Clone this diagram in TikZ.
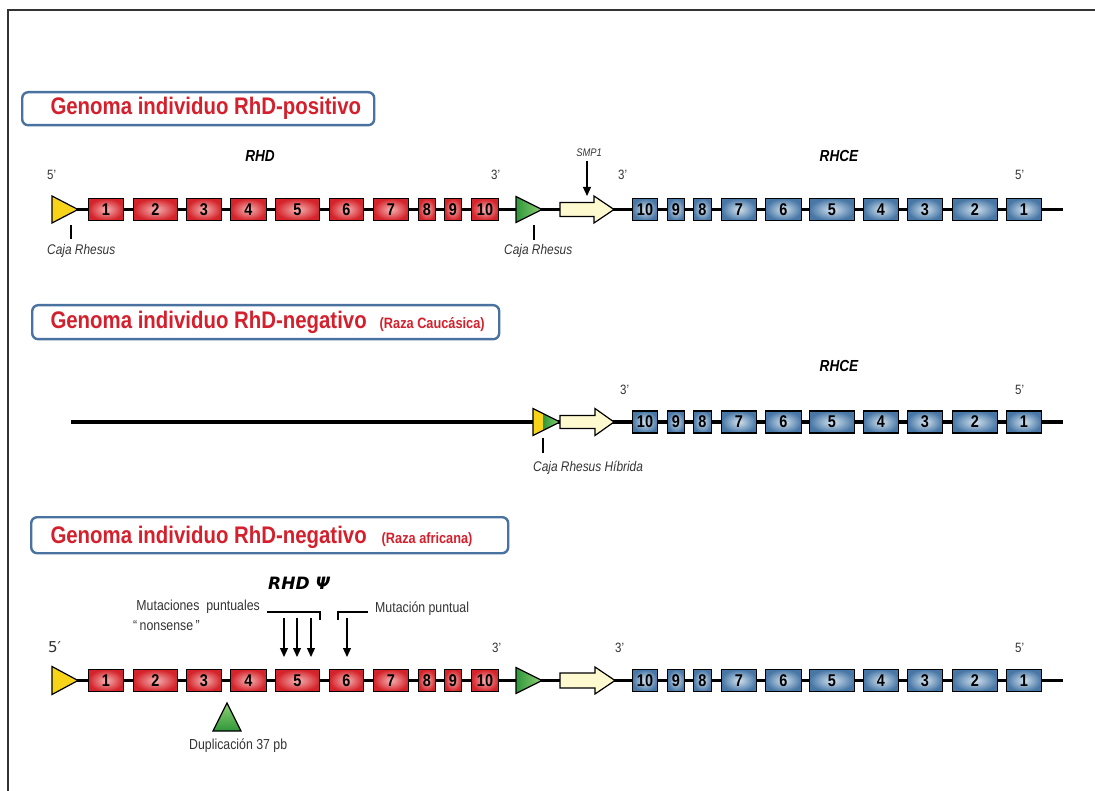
\documentclass[tikz,border=0pt]{standalone}
\usepackage{fontspec}
\setmainfont[FakeStretch=0.85]{Liberation Sans}
\newfontfamily\psifont{DejaVu Sans}
\newcommand{\subtitlefont}{\fontsize{15}{15}\selectfont}
\usetikzlibrary{arrows.meta}
\definecolor{exonred}{HTML}{D4232A}
\definecolor{exonredlight}{HTML}{F6B2B2}
\definecolor{exonblue}{HTML}{4877A6}
\definecolor{exonbluelight}{HTML}{D2E2EE}
\definecolor{boxblue}{HTML}{4A72A0}
\definecolor{titlered}{HTML}{D3202C}
\definecolor{rhyellow}{HTML}{F7D417}
\definecolor{rhgreen}{HTML}{2E973A}
\definecolor{rhgreenlight}{HTML}{8FD173}
\definecolor{smpfill}{HTML}{FEF9CF}
\definecolor{labelgray}{HTML}{333333}
\tikzset{
  exon/.style = {draw=black, line width=1.4pt, minimum height=22pt, text=black,
    inner sep=0pt, font=\fontsize{17}{17}\selectfont\bfseries},
  red_exon/.style = {exon, inner color=exonredlight, outer color=exonred},% exones RHD
  blue_exon/.style = {exon, inner color=exonbluelight, outer color=exonblue},% exones RHCE
  backbone/.style = {line width=3.2pt, black},
  tri_border/.style = {draw=black, line width=1.2pt, line join=miter},
  smp_arrow/.style = {tri_border, fill=smpfill},
  title_box/.style = {draw=boxblue, line width=2.4pt, rounded corners=6pt,
    anchor=north west, inner sep=0pt},
  title_text/.style = {anchor=base west, text=titlered,
    font=\fontsize{24}{24}\selectfont\bfseries},
  end_label/.style = {anchor=base west, text=labelgray, inner sep=0pt,
    font=\fontsize{13.5}{13.5}\selectfont},
  gene_label/.style = {anchor=base, inner sep=0pt,
    font=\fontsize{16}{16}\selectfont\bfseries\itshape},
  box_label/.style = {anchor=base west, text=labelgray, inner sep=0pt,
    font=\fontsize{14}{14}\selectfont\itshape},
  note/.style = {text=labelgray, inner sep=0pt, font=\fontsize{14.5}{14.5}\selectfont},
  tick/.style = {line width=1.1pt, black},
  mut_arrow/.style = {line width=1.2pt, -{Triangle[length=9pt,width=8pt]}}
}
\begin{document}
\begin{tikzpicture}[x=1pt, y=-1pt]
  \useasboundingbox (0,0) rectangle (1095,791);
  \draw[line width=1.2pt, labelgray] (8,791) -- (8,10) -- (1095,10);

  % ---- Genoma RhD-positivo
  \node[title_box, minimum width=352pt, minimum height=33pt] (boxA) at (21,91) {};
  \node[title_text] (titleA) at (47,115) {Genoma individuo RhD-positivo};

  \coordinate (lineA0) at (60,209.5);
  \coordinate (lineA1) at (1063,209.5);
  \draw[backbone] (lineA0) -- (lineA1);
  \draw[tri_border, fill=rhyellow] (52,209.5) ++(0,-13.5) -- ++(26,13.5) -- ++(-26,13.5) -- cycle;
  \draw[tri_border, left color=rhgreen, right color=rhgreenlight] (516,209.5) ++(0,-13) -- ++(26,13) -- ++(-26,13) -- cycle;
  \draw[smp_arrow] (560,209.5) ++(0,-7) -- ++(34,0) -- ++(0,-6.5) -- ++(20,13.5) -- ++(-20,13.5) -- ++(0,-6.5) -- ++(-34,0) -- cycle;
  \foreach \n/\c/\w in {1/106/36, 2/155.5/45, 3/204/36, 4/248.5/37, 5/297.5/45,
      6/346.5/35, 7/391/36, 8/427/18, 9/453/18, 10/485/28}
    \node[red_exon, minimum width={(\w-1)*1pt}] (dA\n) at (\c,209.5) {\n};
  \foreach \n/\c/\w in {10/645/26, 9/676/18, 8/702.5/19, 7/739/36, 6/783.5/37,
      5/832/46, 4/881/36, 3/925/36, 2/975/46, 1/1024/36}
    \node[blue_exon, minimum width={(\w-1)*1pt}] (ceA\n) at (\c,209.5) {\n};

  \node[gene_label] (rhdA) at (260,162) {RHD};
  \node[gene_label] (rhceA) at (839,162) {RHCE};
  \node[end_label] (fiveA) at (47,180) {5'};
  \node[end_label] (threeA) at (491,180) {3'};
  \node[end_label] (threeAb) at (618,180) {3'};
  \node[end_label] (fiveAb) at (1015,180) {5'};
  \node[anchor=base, inner sep=0pt, text=labelgray,
    font=\fontsize{11}{11}\selectfont\itshape] (smp) at (589,157) {SMP1};
  \coordinate (smpTip) at (587,196);
  \draw[mut_arrow] (smp.south -| smpTip) ++(0,4) -- (smpTip);
  \node[box_label] (cajaA) at (47,255) {Caja Rhesus};
  \node[box_label] (cajaAb) at (504,255) {Caja Rhesus};
  \coordinate (tickA) at (71,225);
  \coordinate (tickAb) at (534,225);
  \draw[tick] (tickA) -- ++(0,14);
  \draw[tick] (tickAb) -- ++(0,15);

  % ---- Genoma RhD-negativo (caucasica)
  \node[title_box, minimum width=467pt, minimum height=34pt] (boxB) at (31,304) {};
  \node[title_text] (titleB) at (47,329) {Genoma individuo RhD-negativo\hspace{13pt}{\subtitlefont(Raza Caucásica)}};

  \coordinate (lineB0) at (71,422);
  \coordinate (lineB1) at (1063,422);
  \draw[backbone] (lineB0) -- (lineB1);
  \fill[rhyellow] (533,408.5) -- (543,413.5) -- (543,430.5) -- (533,435.5) -- cycle;
  \shade[left color=rhgreen, right color=rhgreenlight] (543,413.5) -- (560,422) -- (543,430.5) -- cycle;
  \draw[tri_border] (533,408.5) -- (560,422) -- (533,435.5) -- cycle;
  \draw[smp_arrow] (560,422) ++(0,-6.5) -- ++(35,0) -- ++(0,-7) -- ++(19,13.5) -- ++(-19,13.5) -- ++(0,-7) -- ++(-35,0) -- cycle;
  \foreach \n/\c/\w in {10/645/26, 9/676/18, 8/702.5/19, 7/739/36, 6/783.5/37,
      5/832/46, 4/881/36, 3/925/36, 2/975/46, 1/1024/36}
    \node[blue_exon, minimum width={(\w-1)*1pt}] (ceB\n) at (\c,422) {\n};

  \node[gene_label] (rhceB) at (839,372) {RHCE};
  \node[end_label] (threeB) at (620,395) {3'};
  \node[end_label] (fiveB) at (1015,395) {5'};
  \node[box_label] (cajaB) at (533,471) {Caja Rhesus Híbrida};
  \coordinate (tickB) at (543,438);
  \draw[tick] (tickB) -- ++(0,15);

  % ---- Genoma RhD-negativo (africana)
  \node[title_box, minimum width=477pt, minimum height=36pt] (boxC) at (30,516) {};
  \node[title_text] (titleC) at (47,543) {Genoma individuo RhD-negativo\hspace{15pt}{\subtitlefont(Raza africana)}};

  \coordinate (lineC0) at (60,680.5);
  \coordinate (lineC1) at (1063,680.5);
  \draw[backbone] (lineC0) -- (lineC1);
  \draw[tri_border, fill=rhyellow] (52,680.5) ++(0,-14) -- ++(26,14) -- ++(-26,14) -- cycle;
  \draw[tri_border, left color=rhgreen, right color=rhgreenlight] (516,680.5) ++(0,-13) -- ++(26,13) -- ++(-26,13) -- cycle;
  \draw[smp_arrow] (560,680.5) ++(0,-7.5) -- ++(35,0) -- ++(0,-6) -- ++(20,13.5) -- ++(-20,13.5) -- ++(0,-6) -- ++(-35,0) -- cycle;
  \foreach \n/\c/\w in {1/106/36, 2/155.5/45, 3/204/36, 4/248.5/37, 5/297.5/45,
      6/346.5/35, 7/391/36, 8/427/18, 9/453/18, 10/485/28}
    \node[red_exon, minimum width={(\w-1)*1pt}] (psiC\n) at (\c,680.5) {\n};
  \foreach \n/\c/\w in {10/645/26, 9/676/18, 8/702.5/19, 7/739/36, 6/783.5/37,
      5/832/46, 4/881/36, 3/925/36, 2/975/46, 1/1024/36}
    \node[blue_exon, minimum width={(\w-1)*1pt}] (ceC\n) at (\c,680.5) {\n};

  \node[anchor=base west, inner sep=0pt, text=labelgray,
    font=\psifont\fontsize{15}{15}\selectfont] (fiveC) at (48,652) {5′};
  \node[end_label] (threeC) at (492,652) {3'};
  \node[end_label] (threeCb) at (615,652) {3'};
  \node[end_label] (fiveCb) at (1015,652) {5'};

  \node[anchor=base west, inner sep=0pt,
    font=\psifont\fontsize{17}{17}\selectfont\bfseries\itshape] (psiName) at (268,589) {RHD Ψ};
  \node[note, anchor=base east] (mutN) at (260,610) {Mutaciones\ \ puntuales};
  \node[note, anchor=base west] (nonsense) at (133,630) {“\,nonsense\,”};
  \node[note, anchor=base west] (mutP) at (375,612) {Mutación puntual};
  \draw[line width=1.1pt] (267,612) -- (320,612) -- (320,620);
  \draw[line width=1.1pt] (338,620) -- (338,612) -- (368,612);
  \foreach \x in {284,297,311}
    \draw[mut_arrow] (\x,618) -- (\x,657);
  \draw[mut_arrow] (347,618) -- (347,657);

  \draw[tri_border, top color=rhgreenlight, bottom color=rhgreen] (227,703) -- (241,731) -- (213,731) -- cycle;
  \node[note, anchor=base west] (dup) at (189,749) {Duplicación 37 pb};
\end{tikzpicture}
\end{document}
